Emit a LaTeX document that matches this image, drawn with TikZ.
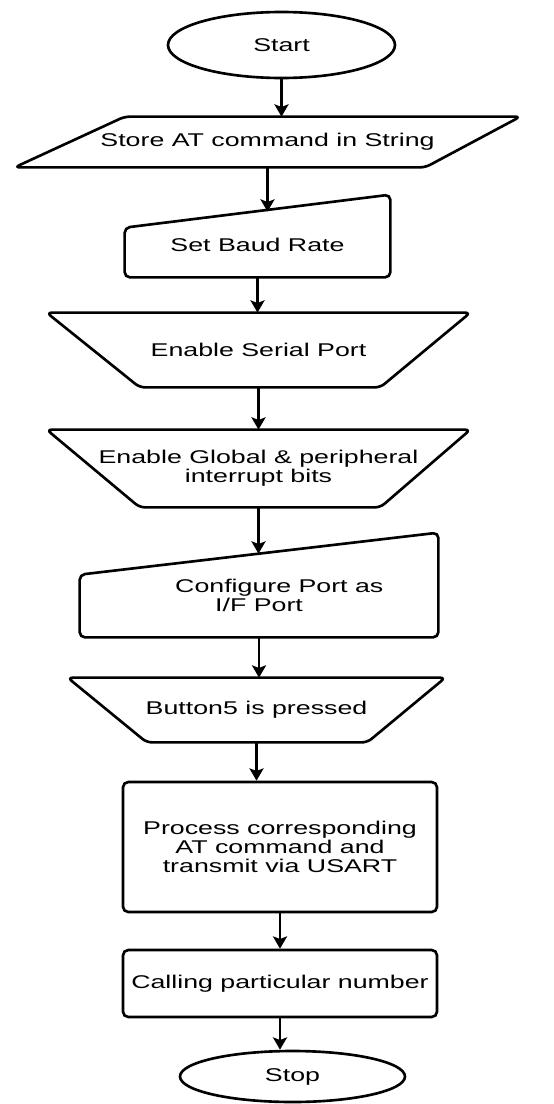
\documentclass[tikz,border=0pt]{standalone}
\usepackage{fontspec}
\setmainfont[FakeStretch=1.45]{Liberation Sans}
\usetikzlibrary{shapes.geometric, arrows.meta}

\begin{document}
\begin{tikzpicture}[
    x=0.2mm, y=-0.2mm,
    box/.style={rectangle, inner sep=0pt, align=center, font=\fontsize{10.5}{11}\selectfont},
    termbox/.style={box, ellipse, draw, line width=1.5pt},
    procbox/.style={box, draw, line width=1.5pt, rounded corners=3pt},
    outline/.style={line width=1.5pt, rounded corners=3pt},
    arrow/.style={-{Stealth[length=7pt, width=8pt, inset=1.5pt]}, line width=1.5pt}
]
    \useasboundingbox (0,0) rectangle (553,1104);

    \node[termbox, minimum width=45.4mm, minimum height=13.2mm] (start) at (281.5,45) {Start};
    \node[box, minimum width=101mm, minimum height=10mm] (store) at (267.5,142) {Store AT command in String};
    \node[box, minimum width=53mm, minimum height=13mm] (baud) at (257.5,244.5) {Set Baud Rate};
    \node[box, minimum width=84.6mm, minimum height=14.8mm] (serial) at (258.5,350) {Enable Serial Port};
    \node[box, minimum width=84.6mm, minimum height=15.4mm] (global) at (258.5,468.5) {Enable Global \& peripheral\\interrupt bits};
    \node[box, minimum width=71.6mm, minimum height=16.6mm] (config) at (259,595.5) {\hspace*{2.2em}Configure Port as\\I/F Port};
    \node[box, minimum width=75.4mm, minimum height=12.8mm] (button) at (256.5,710) {Button5 is pressed};
    \node[procbox, minimum width=62.8mm, minimum height=26mm] (process) at (280,847) {Process corresponding\\AT command and\\transmit via USART};
    \node[procbox, minimum width=62.8mm, minimum height=13.4mm] (calling) at (280,983.5) {Calling particular number};
    \node[termbox, minimum width=45mm, minimum height=10.2mm] (stop) at (292.5,1076.5) {Stop};

    % outlines of the non-rectangular boxes
    \draw[outline] ([xshift=22mm]store.north west) -- (store.north east) -- ([xshift=-19mm]store.south east) -- (store.south west) -- cycle;
    \draw[outline] (baud.south west) -- ([yshift=-3.2mm]baud.north west) -- ([yshift=3.4mm]baud.north east) -- (baud.south east) -- cycle;
    \draw[outline] (serial.north west) -- (serial.north east) -- ([xshift=-18mm]serial.south east) -- ([xshift=18.6mm]serial.south west) -- cycle;
    \draw[outline] (global.north west) -- (global.north east) -- ([xshift=-18mm]global.south east) -- ([xshift=18.6mm]global.south west) -- cycle;
    \draw[outline] (config.south west) -- ([yshift=-4.2mm]config.north west) -- ([yshift=4.2mm]config.north east) -- (config.south east) -- cycle;
    \draw[outline] (button.north west) -- (button.north east) -- ([xshift=-15.6mm]button.south east) -- ([xshift=15.8mm]button.south west) -- cycle;

    \draw[arrow] (start.south) -- (start.south |- store.north);
    \draw[arrow] (store.south) -- (store.south |- baud.north);
    \draw[arrow] (baud.south) -- (baud.south |- serial.north);
    \draw[arrow] (serial.south) -- (serial.south |- global.north);
    \draw[arrow] (global.south) -- (global.south |- config.north);
    \draw[arrow] (config.south) -- (config.south |- button.north);
    \draw[arrow] (button.south) -- (button.south |- process.north);
    \draw[arrow] (process.south) -- (process.south |- calling.north);
    \draw[arrow] (calling.south) -- (calling.south |- stop.north);
\end{tikzpicture}
\end{document}
